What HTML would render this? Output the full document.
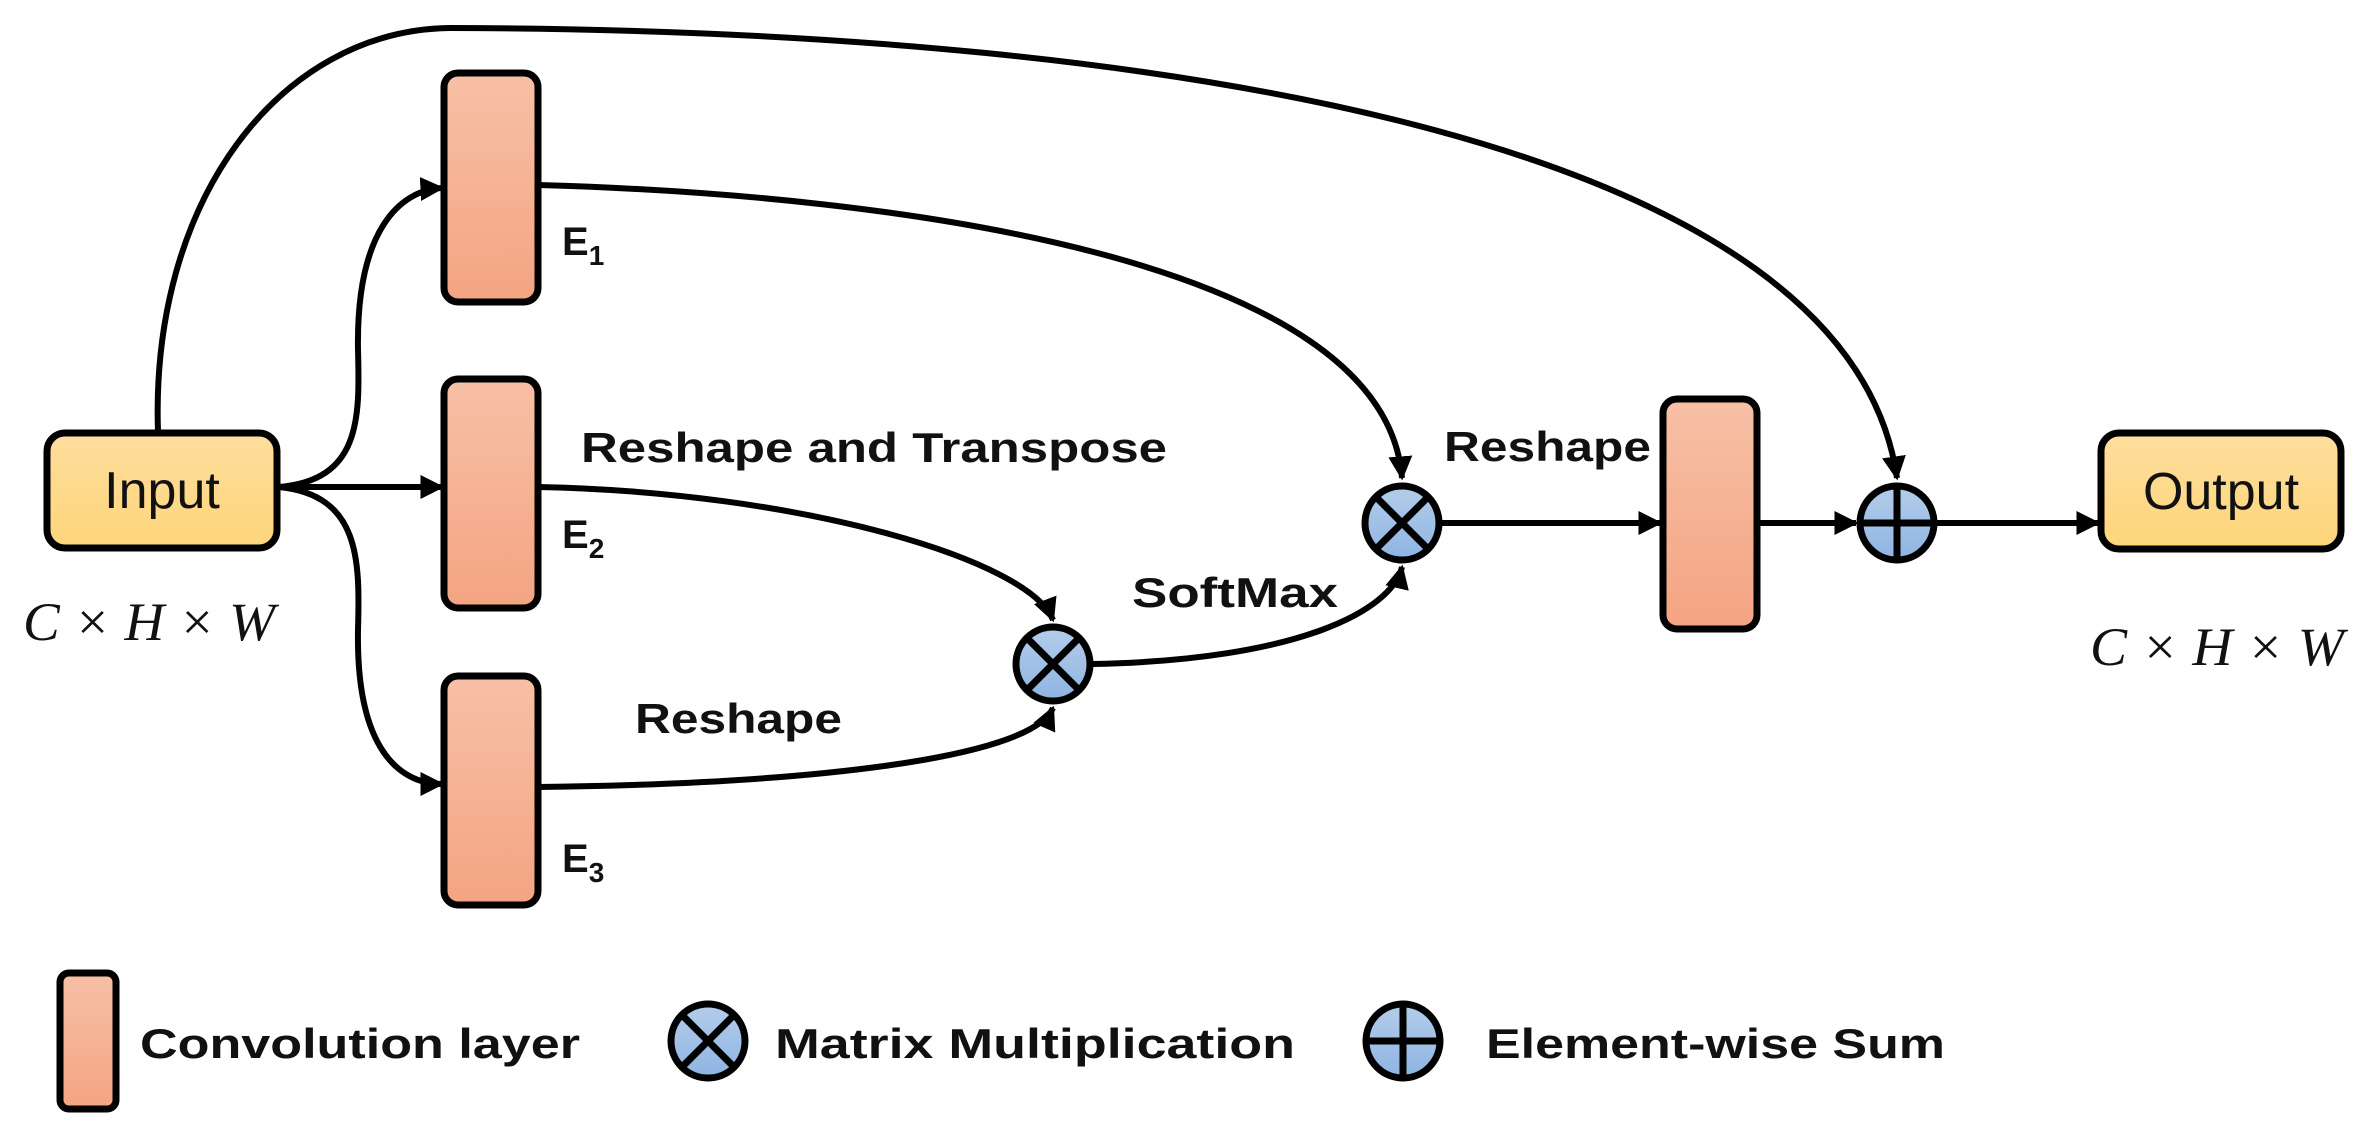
<!DOCTYPE html>
<html><head><meta charset="utf-8"><style>
html,body{margin:0;padding:0;background:#fff;}
svg{display:block;}
.lb{font-family:"Liberation Sans",sans-serif;font-weight:bold;fill:#111;}
.mt{font-family:"Liberation Serif",serif;font-style:italic;fill:#111;}
</style></head><body>
<svg width="2365" height="1148" viewBox="0 0 2365 1148" xmlns="http://www.w3.org/2000/svg">
<defs>
<linearGradient id="gy" x1="0" y1="0" x2="0" y2="1"><stop offset="0" stop-color="#FEDE9E"/><stop offset="1" stop-color="#FED57A"/></linearGradient>
<linearGradient id="gc" x1="0" y1="0" x2="0" y2="1"><stop offset="0" stop-color="#F7C0A6"/><stop offset="1" stop-color="#F4A482"/></linearGradient>
<linearGradient id="gb" x1="0" y1="0" x2="0" y2="1"><stop offset="0" stop-color="#B4CDEA"/><stop offset="1" stop-color="#8EB4E2"/></linearGradient>
<marker id="ar" viewBox="0 0 10 10" refX="9" refY="5" markerWidth="4" markerHeight="4" orient="auto" markerUnits="strokeWidth"><path d="M0,0 L10,5 L0,10 Z" fill="#000"/></marker>
</defs>
<g fill="none" stroke="#000" stroke-width="6">
<path d="M158,432 C150,200 280,30 450,28 C1200,30 1850,150 1897,478" marker-end="url(#ar)"/>
<path d="M279,487 C360,480 360,420 358,350 C356,230 400,190 442,188" marker-end="url(#ar)"/>
<path d="M279,487 C340,487 400,487 442,487" marker-end="url(#ar)"/>
<path d="M279,487 C360,495 360,560 358,630 C356,750 400,784 442,784" marker-end="url(#ar)"/>
<path d="M538,185 C900,195 1385,260 1402,478" marker-end="url(#ar)"/>
<path d="M538,487 C800,492 1030,560 1053,620" marker-end="url(#ar)"/>
<path d="M538,787 C800,784 1030,760 1053,708" marker-end="url(#ar)"/>
<path d="M1093,664 C1300,660 1392,610 1402,567" marker-end="url(#ar)"/>
<path d="M1441,523 L1660,523" marker-end="url(#ar)"/>
<path d="M1759,523 L1856,523" marker-end="url(#ar)"/>
<path d="M1936,523 L2098,523" marker-end="url(#ar)"/>
</g>
<g stroke="#000" stroke-width="7">
<rect x="47" y="433" width="230" height="115" rx="18" fill="url(#gy)"/>
<rect x="2101" y="433" width="240" height="116" rx="18" fill="url(#gy)"/>
<rect x="444" y="73" width="94" height="229" rx="14" fill="url(#gc)"/>
<rect x="444" y="379" width="94" height="229" rx="14" fill="url(#gc)"/>
<rect x="444" y="676" width="94" height="229" rx="14" fill="url(#gc)"/>
<rect x="1663" y="399" width="94" height="230" rx="14" fill="url(#gc)"/>
<rect x="60" y="973" width="56" height="136" rx="9" fill="url(#gc)"/>
</g>
<g stroke="#000" stroke-width="7">
<circle cx="1053" cy="664" r="37" fill="url(#gb)"/>
<path d="M1027,638 L1079,690 M1079,638 L1027,690"/>
<circle cx="1402" cy="523" r="37" fill="url(#gb)"/>
<path d="M1376,497 L1428,549 M1428,497 L1376,549"/>
<circle cx="1897" cy="523" r="37" fill="url(#gb)"/>
<path d="M1897,486 L1897,560 M1860,523 L1934,523"/>
<circle cx="708" cy="1041" r="37" fill="url(#gb)"/>
<path d="M682,1015 L734,1067 M734,1015 L682,1067"/>
<circle cx="1403" cy="1041" r="37" fill="url(#gb)"/>
<path d="M1403,1004 L1403,1078 M1366,1041 L1440,1041"/>
</g>
<text x="162" y="508" font-family="Liberation Sans,sans-serif" font-size="52" fill="#111" text-anchor="middle">Input</text>
<text x="2221" y="509" font-family="Liberation Sans,sans-serif" font-size="52" fill="#111" text-anchor="middle">Output</text>
<text class="mt" x="23" y="640" font-size="54" textLength="252" lengthAdjust="spacingAndGlyphs">C × H × W</text>
<text class="mt" x="2090" y="665" font-size="54" textLength="254" lengthAdjust="spacingAndGlyphs">C × H × W</text>
<text class="lb" x="562" y="255" font-size="40">E<tspan font-size="28" dy="10">1</tspan></text>
<text class="lb" x="562" y="548" font-size="40">E<tspan font-size="28" dy="10">2</tspan></text>
<text class="lb" x="562" y="872" font-size="40">E<tspan font-size="28" dy="10">3</tspan></text>
<text class="lb" x="581" y="462" font-size="42" textLength="586" lengthAdjust="spacingAndGlyphs">Reshape and Transpose</text>
<text class="lb" x="635" y="733" font-size="42" textLength="207" lengthAdjust="spacingAndGlyphs">Reshape</text>
<text class="lb" x="1132" y="607" font-size="42" textLength="206" lengthAdjust="spacingAndGlyphs">SoftMax</text>
<text class="lb" x="1444" y="461" font-size="42" textLength="207" lengthAdjust="spacingAndGlyphs">Reshape</text>
<text class="lb" x="140" y="1058" font-size="42" textLength="440" lengthAdjust="spacingAndGlyphs">Convolution layer</text>
<text class="lb" x="775" y="1058" font-size="42" textLength="520" lengthAdjust="spacingAndGlyphs">Matrix Multiplication</text>
<text class="lb" x="1486" y="1058" font-size="42" textLength="459" lengthAdjust="spacingAndGlyphs">Element-wise Sum</text>
</svg>
</body></html>
